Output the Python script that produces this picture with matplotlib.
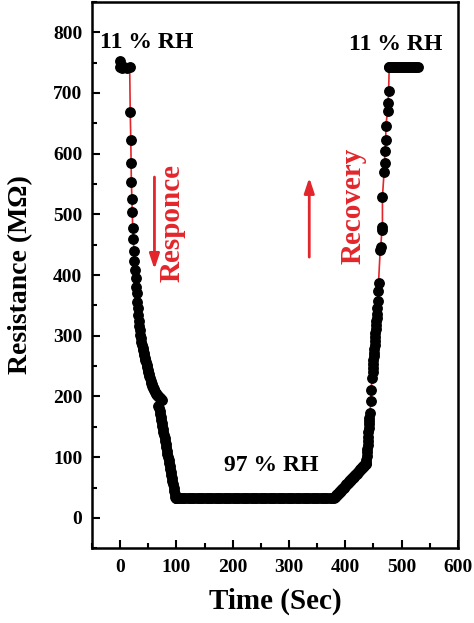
import matplotlib
matplotlib.use("Agg")
import matplotlib.pyplot as plt
from matplotlib.ticker import MultipleLocator

plt.rcParams["font.family"] = ["Liberation Serif", "DejaVu Serif"]
plt.rcParams["font.weight"] = "bold"

RED = "#e3262b"

# response: 11 % RH -> 97 % RH (upper branch, then the lower branch after the kink)
resp_t = [0, -1, 3, 7, 12, 17,
          18, 19, 19.5, 20, 21, 21.5, 22.5, 23.5, 24.5, 25.5, 26.5, 27.5,
          28.5, 29.5, 30.5, 31, 32, 33, 34, 35, 36, 37, 38, 39, 40, 41, 42,
          43, 44, 45, 46, 47, 48, 49, 50, 51, 52, 53, 54, 55, 56, 57, 58,
          59, 60, 61, 62, 63, 64, 65, 66, 67, 68, 69, 70, 71, 72, 73, 74]
resp_R = [752, 742, 741, 742, 741, 742,
          668, 623, 585, 553, 525, 504, 478, 459, 440, 423, 408, 395,
          380, 370, 355, 345, 334, 324, 316, 309, 302, 296, 290, 285, 280, 276, 272,
          268, 264, 260, 256, 252, 248, 244, 240, 237, 233, 230, 226, 223, 221, 218, 216,
          214, 212, 210, 208, 206, 204, 203, 202, 201, 200, 199, 198, 197, 196, 195, 194]

drop_t = [68, 69, 70, 71, 72, 73, 74, 75, 76, 77, 78, 79, 80, 81, 82, 83,
          84, 85, 86, 87, 88, 89, 90, 91, 92, 93, 94, 95, 96, 97, 98, 99, 100]
drop_R = [185, 181, 176, 171, 166, 161, 156, 151, 146, 141, 136, 131, 126, 121,
          116, 111, 106, 101, 96, 91, 86, 81, 76, 71, 66, 61, 56, 50, 45, 40, 35, 33, 33]

# steady state at 97 % RH
flat_t = list(range(100, 381, 4))
flat_R = [33] * len(flat_t)

# recovery: 97 % RH -> 11 % RH
ramp_t = [381, 382, 383, 384, 385, 386, 387, 388, 389, 390, 391, 392, 393, 394,
          395, 396, 397, 398, 399, 400, 401, 402, 403, 404, 405, 406, 407, 408,
          409, 410, 411, 412, 413, 414, 415, 416, 417, 418, 419, 420, 421, 422,
          423, 424, 425, 426, 427, 428, 429, 430, 431, 432, 433, 434, 435, 436, 437]
ramp_R = [34, 35, 36, 37, 38, 39, 40, 41, 42, 43, 44, 45, 46, 47,
          48, 49, 50, 51, 52, 53, 54, 55, 56, 57, 58, 59, 60, 61,
          62, 63, 64, 65, 66, 67, 68, 69, 70, 71, 72, 73, 74, 75,
          76, 77, 78, 79, 80, 81, 82, 83, 84, 85, 86, 87, 88, 89, 91]

rise_t = [437.5, 438, 438.5, 439, 439.5, 440, 440.5, 441, 441.5, 442, 442.5, 443,
          444, 445, 446, 447.5,
          448.5, 449, 449.5, 450, 450.5, 451, 451.5, 452, 452.5, 453, 453.5, 454,
          454.5, 455, 455.5, 456,
          457, 457.5, 458, 459, 462, 463, 465, 466, 466, 469, 470, 470, 472, 472,
          475, 476, 477, 478]
rise_R = [96, 102, 108, 114, 120, 127, 134, 141, 148, 155, 160, 165,
          173, 192, 211, 230,
          240, 247, 254, 260, 266, 272, 278, 284, 291, 298, 304, 311,
          318, 324, 329, 336,
          345, 357, 373, 387, 441, 446, 474, 479, 529, 570, 585, 604, 623, 645,
          670, 684, 704, 742]

top_t = list(range(478, 531, 3))
top_R = [742] * len(top_t)

t = resp_t + drop_t + flat_t + ramp_t + rise_t + top_t
R = resp_R + drop_R + flat_R + ramp_R + rise_R + top_R

fig = plt.figure(figsize=(4.74, 6.23), dpi=100)
ax = fig.add_axes([0.194, 0.120, 0.772, 0.877])

ax.plot(t, R, color=RED, lw=1.2, zorder=2)
ax.plot(t, R, "o", color="black", ms=6.8, zorder=3)

ax.set_xlim(-50, 600)
ax.set_ylim(-50, 850)
ax.xaxis.set_major_locator(MultipleLocator(100))
ax.xaxis.set_minor_locator(MultipleLocator(50))
ax.yaxis.set_major_locator(MultipleLocator(100))
ax.yaxis.set_minor_locator(MultipleLocator(50))
ax.tick_params(which="both", direction="in", width=1.5, labelsize=14)
ax.tick_params(which="major", length=6)
ax.tick_params(which="minor", length=3.5)
ax.tick_params(axis="y", pad=7)
ax.tick_params(axis="x", pad=8)
for lab in ax.get_xticklabels() + ax.get_yticklabels():
    lab.set_fontweight("bold")
for s in ax.spines.values():
    s.set_linewidth(1.8)

ax.set_xlabel("Time (Sec)", fontsize=21, fontweight="bold", labelpad=8)
ax.set_ylabel("Resistance (M\u03a9)", fontsize=20, fontweight="bold", labelpad=14)

ax.text(48, 783, "11 % RH", fontsize=17, fontweight="bold", ha="center", va="center")
ax.text(489, 780, "11 % RH", fontsize=17, fontweight="bold", ha="center", va="center")
ax.text(268, 86, "97 % RH", fontsize=17, fontweight="bold", ha="center", va="center")

ax.text(93, 486, "Responce", color=RED, fontsize=21, fontweight="bold",
        rotation=90, ha="center", va="center")
ax.text(414, 514, "Recovery", color=RED, fontsize=21, fontweight="bold",
        rotation=90, ha="center", va="center")

arrow = dict(arrowstyle="-|>,head_length=0.9,head_width=0.3", color=RED, lw=2)
ax.annotate("", xy=(61, 405), xytext=(61, 566), arrowprops=arrow)
ax.annotate("", xy=(336, 565), xytext=(336, 425), arrowprops=arrow)

fig.savefig("out.png", dpi=100)
